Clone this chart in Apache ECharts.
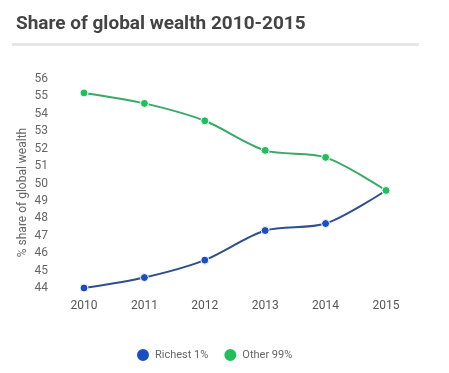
<!DOCTYPE html>
<html><head><meta charset="utf-8">
<script src="https://cdn.jsdelivr.net/npm/echarts@6/dist/echarts.min.js"></script>
<style>html,body{margin:0;padding:0;background:#fff}#c{width:449px;height:373px}</style>
</head><body><div id="c"></div>
<script>
var years = ['2010','2011','2012','2013','2014','2015'];
var richest = [44.0, 44.6, 45.6, 47.3, 47.7, 49.6];
var other = [55.2, 54.6, 53.6, 51.9, 51.5, 49.6];
var chart = echarts.init(document.getElementById('c'));
chart.setOption({
  backgroundColor: '#fff',
  animation: false,
  title: {text: 'Share of global wealth 2010-2015', left: 11, top: 10,
    textStyle: {fontFamily: 'Roboto', fontWeight: 'bold', fontSize: 19, color: '#444'}},
  graphic: [{type: 'rect', shape: {x: 12, y: 43, width: 407, height: 3}, style: {fill: '#e6e6e6'}}],
  grid: {left: 84, right: 63, top: 79, bottom: 85},
  legend: {left: 130, top: 342, itemWidth: 14, itemHeight: 14, itemGap: 14, icon: 'circle',
    textStyle: {fontFamily: 'Roboto', fontSize: 11, color: '#666'},
    data: ['Richest 1%', 'Other 99%']},
  xAxis: {type: 'category', data: years, boundaryGap: false,
    axisLine: {show: false}, axisTick: {show: false}, splitLine: {show: false},
    axisLabel: {margin: 12, fontFamily: 'Roboto', fontSize: 12, color: '#555'}},
  yAxis: {type: 'value', min: 44, max: 56, interval: 1,
    name: '% share of global wealth', nameLocation: 'middle', nameGap: 55, nameRotate: 90,
    nameMoveOverlap: false,
    nameTextStyle: {fontFamily: 'Roboto', fontSize: 12, color: '#666', padding: [0, 0, 0, -18]},
    axisLine: {show: false}, axisTick: {show: false}, splitLine: {show: false},
    axisLabel: {margin: 36, fontFamily: 'Roboto', fontSize: 12, color: '#666'}},
  series: [
    {name: 'Richest 1%', type: 'line', data: richest, smooth: 0.3, symbol: 'circle', symbolSize: 8,
      itemStyle: {color: '#1a4fc4', borderColor: '#fff', borderWidth: 1},
      lineStyle: {color: '#2f4f8c', width: 2}},
    {name: 'Other 99%', type: 'line', data: other, smooth: 0.3, symbol: 'circle', symbolSize: 8,
      itemStyle: {color: '#1fbf5a', borderColor: '#fff', borderWidth: 1},
      lineStyle: {color: '#3aa968', width: 2}}
  ]
});
</script></body></html>
